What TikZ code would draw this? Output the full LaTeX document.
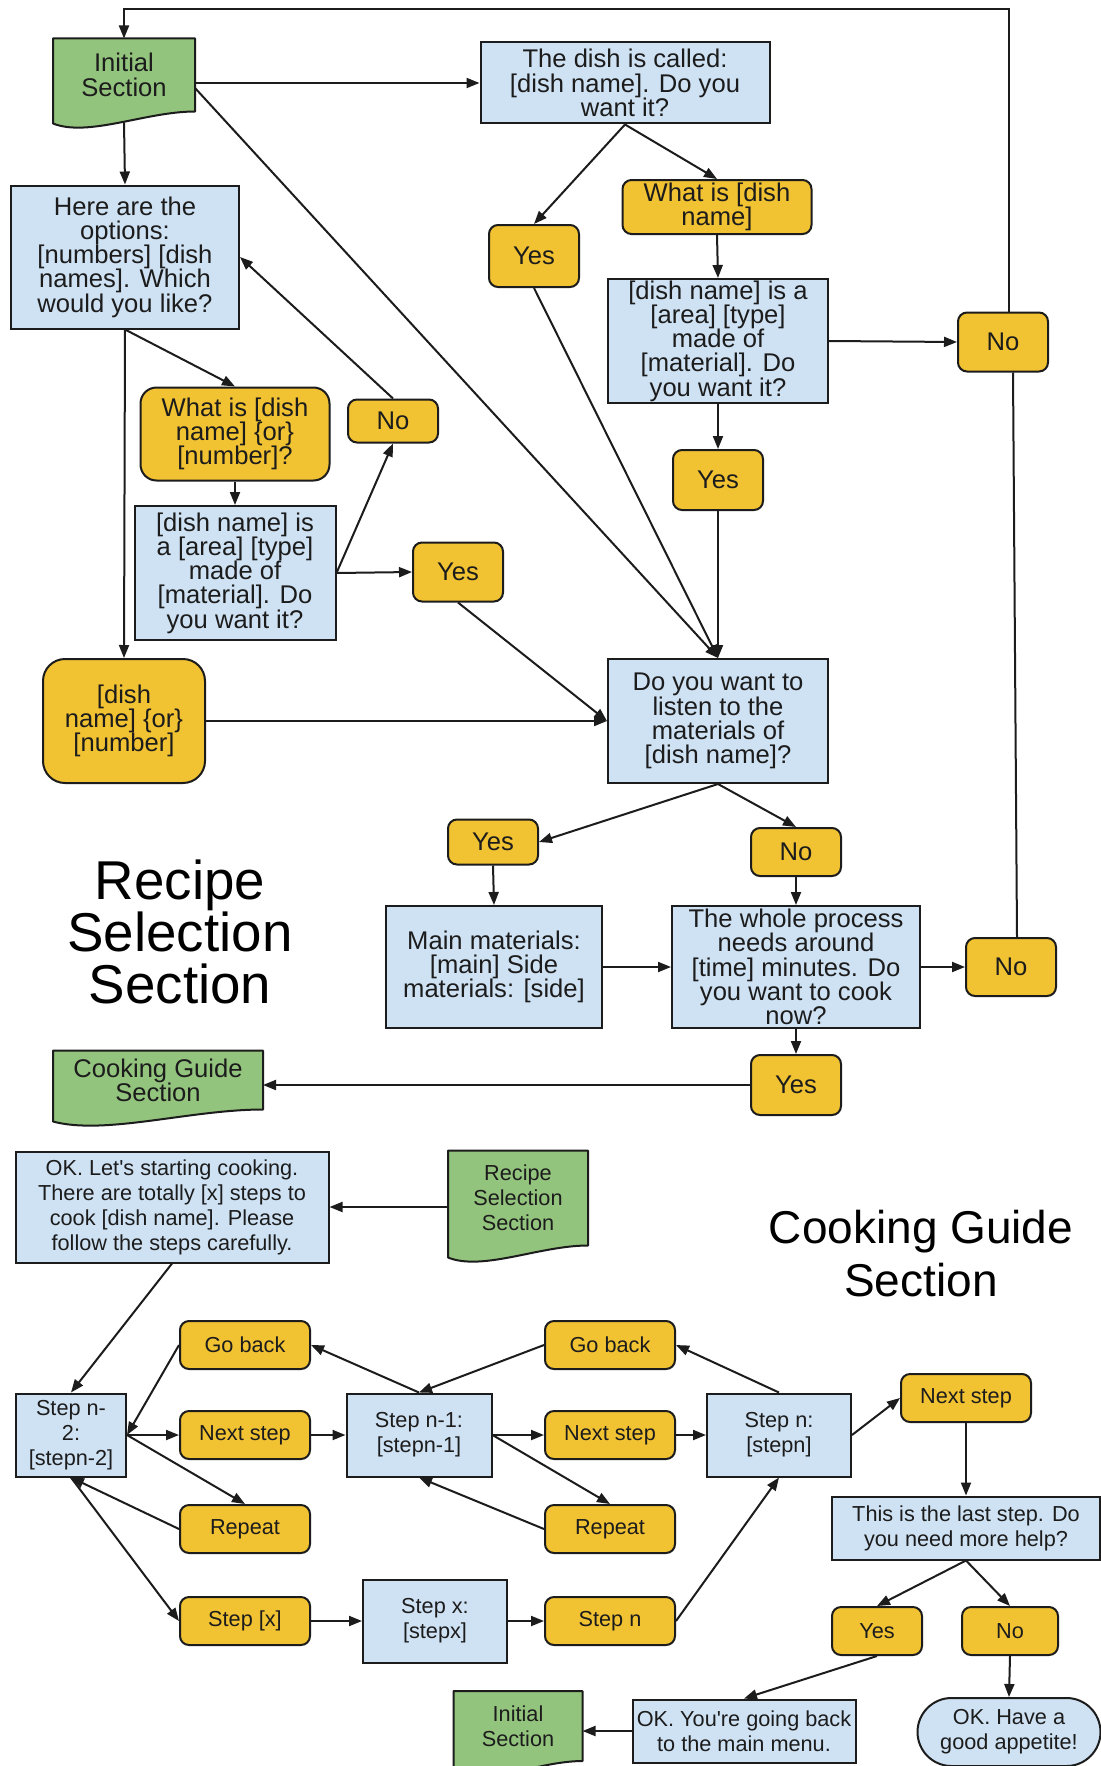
\documentclass[tikz,border=0pt]{standalone}
\usepackage{fontspec}
\setmainfont{Liberation Sans}[Ligatures=TeXOff]
\usetikzlibrary{arrows.meta,backgrounds}

\definecolor{qblue}{HTML}{CFE2F3}
\definecolor{qorange}{HTML}{F1C232}
\definecolor{qgreen}{HTML}{93C47D}
\definecolor{qink}{HTML}{1C1C1C}

\newcommand{\bigtxt}{\fontsize{25.6}{24.3}\selectfont}
\newcommand{\smalltxt}{\fontsize{21.7}{25}\selectfont}
% green document outline round a named node: #1 node, #2 its width
\newcommand{\docshape}[2]{%
	\draw[fill=qgreen, draw=qink, line width=2pt, line join=round] (#1.north west) -- (#1.north east) -- (#1.south east)
		.. controls +({-0.35*#2}, 0) and +({0.25*#2}, 14) .. ([yshift=-12pt]#1.south west) -- cycle;}

\begin{document}
\begin{tikzpicture}[x=1pt, y=-1pt, line width=2pt]
	\tikzstyle{box}   = [rectangle, draw=qink, fill=qblue, align=center, inner sep=0pt, text=qink]
	\tikzstyle{ans}   = [rectangle, rounded corners=9pt, draw=qink, fill=qorange, align=center, inner sep=0pt, text=qink]
	\tikzstyle{doc}   = [rectangle, align=center, inner sep=0pt, text=qink]
	\tikzstyle{arr}   = [-{Triangle[length=13pt, width=10pt]}, draw=qink]
	\tikzstyle{title} = [align=center, text=black]

	\begin{scope}[on background layer]
		\fill[white] (0,0) rectangle (1100,1766);
	\end{scope}
	\useasboundingbox (0,0) rectangle (1100,1766);

	% recipe selection section
	\node[doc, font=\bigtxt, minimum width=140pt, minimum height=71pt] (init) at (124, 75) {Initial\\Section};
	\node[box, font=\bigtxt, minimum width=289pt, minimum height=81pt] (called) at (625, 83) {The dish is called:\\{}[dish name]. Do you\\want it?};
	\node[box, font=\bigtxt, minimum width=228pt, minimum height=143pt] (options) at (125, 257) {Here are the\\options:\\{}[numbers] [dish\\names]. Which\\would you like?};
	\node[ans, font=\bigtxt, minimum width=189pt, minimum height=54pt] (whatA) at (717, 207) {What is [dish\\name]};
	\node[box, font=\bigtxt, minimum width=220pt, minimum height=124pt] (isA) at (718, 341) {[dish name] is a\\{}[area] [type]\\made of\\{}[material]. Do\\you want it?};
	\node[ans, rounded corners=16pt, font=\bigtxt, minimum width=189pt, minimum height=93pt] (whatB) at (235, 434) {What is [dish\\name] \{or\}\\{}[number]?};
	\node[box, font=\bigtxt, minimum width=201pt, minimum height=134pt] (isB) at (235, 573) {[dish name] is\\a [area] [type]\\made of\\{}[material]. Do\\you want it?};
	\node[ans, rounded corners=22pt, font=\bigtxt, minimum width=162pt, minimum height=124pt] (orNum) at (124, 721) {[dish\\name] \{or\}\\{}[number]};
	\node[box, font=\bigtxt, minimum width=220pt, minimum height=124pt] (listen) at (718, 721) {Do you want to\\listen to the\\materials of\\{}[dish name]?};
	\node[box, font=\bigtxt, minimum width=216pt, minimum height=122pt] (main) at (494, 967) {Main materials:\\{}[main] Side\\materials: [side]};
	\node[box, font=\bigtxt, minimum width=248pt, minimum height=122pt] (whole) at (796, 967) {The whole process\\needs around\\{}[time] minutes. Do\\you want to cook\\now?};
	\node[doc, font=\bigtxt, minimum width=208pt, minimum height=57pt] (cookSec) at (158, 1080) {Cooking Guide\\Section};

	\foreach \name/\word/\x/\y/\h in {yesA/Yes/534/256/62, noA/No/1003/342/59, yesB/Yes/718/480/60, noB/No/393/421/43, yesC/Yes/458/572/59, yesD/Yes/493/842/45, noC/No/796/852/48, noD/No/1011/967/58, yesE/Yes/796/1085/60}
		\node[ans, font=\bigtxt, minimum width=90pt, minimum height=\h pt] (\name) at (\x, \y) {\word};

	\node[title, font=\fontsize{54.7}{52}\selectfont] (recTitle) at (180, 932) {Recipe\\Selection\\Section};

	\coordinate (topL) at (124, 9);

	\foreach \from/\to in {called.south/yesA.north, called.south/whatA.north, whatA.south/isA.north, isA.east/noA.west, isA.south/yesB.north, yesA.south/listen.north, yesB.south/listen.north, options.south/orNum.north, options.south/whatB.north, whatB.south/isB.north, isB.east/noB.south, isB.east/yesC.west, noB.north/options.east, yesC.south/listen.west, orNum.east/listen.west, listen.south/yesD.east, listen.south/noC.north, yesD.south/main.north, noC.south/whole.north, main.east/whole.west, whole.east/noD.west, whole.south/yesE.north}
		\draw[arr] (\from) -- (\to);

	\draw[arr] (init.east |- called.west) -- (called.west);
	\draw[arr] ([yshift=-13pt]init.east) -- (listen.north);
	\draw[arr] ([yshift=-11pt]init.south) -- (options.north);
	\draw[arr] (yesE.west) -- (yesE.west -| cookSec.east);
	\draw[qink] ([xshift=6pt]noD.north) -- ([xshift=10pt]noA.south);
	\draw[arr] ([xshift=6pt]noA.north) |- (topL) -- (init.north);

	% cooking guide section
	\node[box, font=\smalltxt, minimum width=313pt, minimum height=111pt] (okStart) at (172, 1207) {OK. Let's starting cooking.\\There are totally [x] steps to\\cook [dish name]. Please\\follow the steps carefully.};
	\node[doc, font=\smalltxt, minimum width=138pt, minimum height=93pt] (recSec) at (518, 1198) {Recipe\\Selection\\Section};
	\node[box, font=\smalltxt, minimum width=110pt, minimum height=83pt] (s2) at (71, 1435) {Step n-\\2:\\{}[stepn-2]};
	\node[box, font=\smalltxt, minimum width=145pt, minimum height=83pt] (s1) at (419, 1435) {Step n-1:\\{}[stepn-1]};
	\node[box, font=\smalltxt, minimum width=144pt, minimum height=83pt] (sx) at (435, 1621) {Step x:\\{}[stepx]};
	\node[box, font=\smalltxt, minimum width=144pt, minimum height=83pt] (s0) at (779, 1435) {Step n:\\{}[stepn]};
	\node[box, font=\smalltxt, minimum width=268pt, minimum height=63pt] (last) at (966, 1528) {This is the last step. Do\\you need more help?};
	\node[box, font=\smalltxt, minimum width=223pt, minimum height=63pt] (back) at (744, 1731) {OK. You're going back\\to the main menu.};
	\node[box, rounded corners=34pt, font=\smalltxt, minimum width=183pt, minimum height=68pt] (appetite) at (1009, 1732) {OK. Have a\\good appetite!};
	\node[doc, font=\smalltxt, minimum width=127pt, minimum height=68pt] (initB) at (518, 1726) {Initial\\Section};

	\foreach \name/\word/\x/\y/\w in {gbA/Go back/245/1345/130, nsA/Next step/245/1435/130, rpA/Repeat/245/1529/130, sxA/Step [x]/245/1621/130, gbB/Go back/610/1345/130, nsB/Next step/610/1435/130, rpB/Repeat/610/1529/130, sn/Step n/610/1621/130, nsC/Next step/966/1398/130, yesF/Yes/877/1631/90, noF/No/1010/1631/96}
		\node[ans, font=\smalltxt, minimum width=\w pt, minimum height=48pt] (\name) at (\x, \y) {\word};

	\node[title, font=\fontsize{46}{53}\selectfont] (cookTitle) at (921, 1254) {Cooking Guide\\Section};

	\foreach \from/\to in {okStart.south/s2.north, gbA.west/s2.east, s2.east/nsA.west, s2.east/rpA.north, rpA.west/s2.south, s2.south/sxA.west, nsA.east/s1.west, s1.north/gbA.east, gbB.west/s1.north, s1.east/nsB.west, s1.east/rpB.north, rpB.west/s1.south, sxA.east/sx.west, sx.east/sn.west, sn.east/s0.south, nsB.east/s0.west, s0.north/gbB.east, s0.east/nsC.west, nsC.south/last.north, last.south/yesF.north, last.south/noF.north, yesF.south/back.north, noF.south/appetite.north}
		\draw[arr] (\from) -- (\to);

	\draw[arr] (recSec.west |- okStart.east) -- (okStart.east);
	\draw[arr] (back.west) -- (back.west -| initB.east);

	% green document shapes behind their texts
	\begin{scope}[on background layer]
		\foreach \name/\w in {init/140, cookSec/208, recSec/138, initB/127}
			{\docshape{\name}{\w}}
	\end{scope}

\end{tikzpicture}
\end{document}
